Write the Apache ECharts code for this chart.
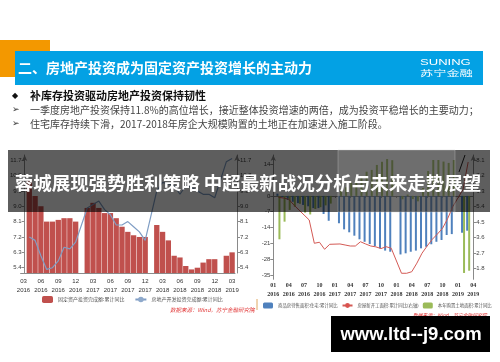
<!DOCTYPE html>
<html>
<head>
<meta charset="utf-8">
<script src="https://cdn.jsdelivr.net/npm/echarts@6/dist/echarts.min.js"></script>
<style>
html,body{margin:0;padding:0;background:#fff;}
#main{width:500px;height:362px;}
</style>
</head>
<body>
<div id="main"></div>
<script>
// ---------- Left chart data ----------
var leftCats = ['2016-03','2016-04','2016-05','2016-06','2016-07','2016-08','2016-09','2016-10','2016-11','2016-12',
  '2017-01','2017-02','2017-03','2017-04','2017-05','2017-06','2017-07','2017-08','2017-09','2017-10','2017-11','2017-12',
  '2018-01','2018-02','2018-03','2018-04','2018-05','2018-06','2018-07','2018-08','2018-09','2018-10','2018-11','2018-12',
  '2019-01','2019-02','2019-03'];
var fixedInvest = [null,10.5,9.6,9.0,8.1,8.1,8.2,8.3,8.3,8.1,
  null,8.9,9.2,8.9,8.6,8.6,8.3,7.8,7.5,7.3,7.2,7.2,
  null,7.9,7.5,7.0,6.1,6.0,5.5,5.3,5.4,5.7,5.9,5.9,
  null,6.1,6.3];
var realEstateInvest = [null,7.2,7.0,6.1,5.3,5.4,5.8,6.6,6.5,6.9,
  null,8.9,9.1,9.3,8.8,8.5,7.9,7.9,8.1,7.8,7.5,7.0,
  null,9.9,10.4,10.3,10.2,9.7,10.2,10.1,9.9,9.7,9.7,9.5,
  null,11.6,11.8];
var leftTicks = [5.4,6.3,7.2,8.1,9.0,9.9,10.8,11.7];

// ---------- Right chart data ----------
var rightCats = ['2016-01','2016-02','2016-03','2016-04','2016-05','2016-06','2016-07','2016-08','2016-09','2016-10','2016-11','2016-12',
  '2017-01','2017-02','2017-03','2017-04','2017-05','2017-06','2017-07','2017-08','2017-09','2017-10','2017-11','2017-12',
  '2018-01','2018-02','2018-03','2018-04','2018-05','2018-06','2018-07','2018-08','2018-09','2018-10','2018-11','2018-12',
  '2019-01','2019-02','2019-03','2019-04'];
var housingInventory = [null,1.0,-0.5,-1.8,-2.6,-3.2,-4.0,-4.6,-5.4,-5.4,-8.0,-11.0,
  null,-12.1,-14.8,-16.1,-17.6,-19.2,-20.3,-21.3,-22.2,-23.2,-24.2,-24.7,
  null,-25.9,-25.4,-24.7,-24.2,-23.2,-22.5,-21.4,-20.3,-19.5,-17.3,-16.9,
  null,-16.3,-15.4,null];
var newStarts = [null,5.94,5.9,5.83,5.5,5.2,4.91,4.62,3.26,3.32,2.91,3.2,
  null,3.22,3.16,3.1,3.1,3.35,3.22,3.1,3.05,2.95,3.06,2.97,
  null,1.51,1.51,1.6,2.1,2.68,3.1,3.49,3.8,4.13,4.7,5.4,
  null,6.4,8.0,null];
var landPurchase = [null,-19.2,-11.4,-6.2,-4.8,-3.5,-7.4,-8.2,-5.8,-5.0,-4.2,-3.4,
  null,2.5,3.8,5.8,7.4,8.5,10.7,11.5,13.7,15.1,16.3,15.8,
  null,-1.5,0.6,-1.4,-2.4,3.5,11.0,15.9,15.9,15.2,14.6,15.9,
  null,-34.1,-33.1,null];
var rightLeftTicks = [-35,-28,-21,-14,-7,0,7,14];
var rightRightTicks = [1.8,2.7,3.6,4.5,5.4,6.3,7.2,8.1];

var leftLegend = ['固定资产投资完成额:累计同比','房地产开发投资完成额:累计同比'];
var rightLegend = ['商品房待售面积:住宅:累计同比','房屋新开工面积:累计同比(右轴)','本年购置土地面积:累计同比'];

var CJK = '"Noto Sans CJK SC","DejaVu Sans",sans-serif';
var SANS = '"Liberation Sans",Arial,sans-serif';

function yAxisCommon(grid, pos, min, max, ticks, offset, digits) {
  return {
    type: 'value', gridIndex: grid, position: pos, min: min, max: max, offset: offset,
    splitLine: {show: false},
    axisLine: {show: true, lineStyle: {color: '#8a8a8a', width: 1}, symbol: ['none', 'arrow'], symbolSize: [4, 6]},
    axisTick: {show: true, length: 3, customValues: ticks, lineStyle: {color: '#8a8a8a'}},
    axisLabel: {customValues: ticks, fontSize: 6, color: '#444', margin: 3, fontFamily: SANS,
      formatter: function (v) { return digits ? Number(v).toFixed(digits) : String(Math.round(v)); }}
  };
}

var chart = echarts.init(document.getElementById('main'), null, {renderer: 'canvas'});
var option = {
  animation: false,
  backgroundColor: '#ffffff',
  grid: [
    {left: 20.6, top: 155, width: 214.4, height: 118},
    {left: 273.3, top: 155, width: 200, height: 124.3}
  ],
  legend: [
    {data: leftLegend, left: 42, top: 296, itemWidth: 11, itemHeight: 7, itemGap: 10, padding: 0,
      textStyle: {fontSize: 5, color: '#555', fontFamily: CJK}},
    {data: rightLegend, left: 263, top: 302.5, itemWidth: 10, itemHeight: 6, itemGap: 4, padding: 0,
      textStyle: {fontSize: 4.4, color: '#555', fontFamily: CJK}}
  ],
  xAxis: [
    {type: 'category', gridIndex: 0, data: leftCats, boundaryGap: true,
      axisLine: {lineStyle: {color: '#8a8a8a'}}, axisTick: {show: false},
      axisLabel: {fontSize: 6, lineHeight: 9, margin: 4, color: '#333', fontFamily: SANS,
        interval: function (i, v) { return parseInt(v.split('-')[1], 10) % 3 === 0; },
        formatter: function (v) { var p = v.split('-'); return p[1] + '\n' + p[0]; }}},
    {type: 'category', gridIndex: 1, data: rightCats, boundaryGap: false,
      axisLine: {lineStyle: {color: '#8a8a8a'}},
      axisTick: {show: true, length: 2, lineStyle: {color: '#8a8a8a'},
        interval: function (i, v) { return (parseInt(v.split('-')[1], 10) - 1) % 3 === 0; }},
      axisLabel: {fontSize: 6, lineHeight: 9, margin: 2, color: '#333', fontWeight: 'bold',
        fontFamily: '"Liberation Serif","Times New Roman",serif',
        interval: function (i, v) { return (parseInt(v.split('-')[1], 10) - 1) % 3 === 0; },
        formatter: function (v) { var p = v.split('-'); return p[1] + '\n' + p[0]; }}}
  ],
  yAxis: [
    yAxisCommon(0, 'left', 5.09, 12.0, leftTicks, -4, 1),
    yAxisCommon(0, 'right', 5.09, 12.0, leftTicks, 2, 1),
    yAxisCommon(1, 'left', -36.9, 18.1, rightLeftTicks, 0, 0),
    yAxisCommon(1, 'right', 1.158, 8.41, rightRightTicks, 0, 1)
  ],
  series: [
    {name: leftLegend[0], type: 'bar', xAxisIndex: 0, yAxisIndex: 0, data: fixedInvest,
      barCategoryGap: '8%', itemStyle: {color: '#c0504d'}},
    {name: leftLegend[1], type: 'line', xAxisIndex: 0, yAxisIndex: 1, data: realEstateInvest,
      symbol: 'none', connectNulls: true, itemStyle: {color: '#8ea9cb'}, lineStyle: {width: 1.2, color: '#7f9dc4'}},
    {name: rightLegend[0], type: 'bar', xAxisIndex: 1, yAxisIndex: 2, data: housingInventory,
      barWidth: 2, barGap: '0%', itemStyle: {color: '#4f81bd'}},
    {name: rightLegend[1], type: 'line', xAxisIndex: 1, yAxisIndex: 3, data: newStarts,
      symbol: 'none', connectNulls: true, itemStyle: {color: '#d9534f'}, lineStyle: {width: 1, color: '#d45a55'}},
    {name: rightLegend[2], type: 'bar', xAxisIndex: 1, yAxisIndex: 2, data: landPurchase,
      barWidth: 2, barGap: '0%', itemStyle: {color: '#9bbb59'}}
  ],
  graphic: {elements: [
    // header banner
    {type: 'rect', shape: {x: 0, y: 40, width: 50, height: 37}, style: {fill: '#f39800'}, z: 1},
    {type: 'rect', shape: {x: 15, y: 51, width: 468, height: 34}, style: {fill: '#03a1e4'}, z: 2},
    {type: 'text', x: 18, y: 68, z: 3, style: {text: '二、房地产投资成为固定资产投资增长的主动力', fill: '#fff',
      font: 'bold 14px ' + CJK, verticalAlign: 'middle'}},
    {type: 'text', x: 420, y: 63, scaleX: 1.45, z: 3, style: {text: 'SUNING', fill: '#fff',
      font: '9px ' + SANS, verticalAlign: 'middle'}},
    {type: 'text', x: 420, y: 73, scaleX: 1.65, z: 3, style: {text: '苏宁金融', fill: '#fff',
      font: '8px ' + CJK, verticalAlign: 'middle'}},
    // bullets
    {type: 'text', x: 12, y: 96, z: 3, style: {text: '◆', fill: '#111', font: '8px "DejaVu Sans"', verticalAlign: 'middle'}},
    {type: 'text', x: 30, y: 96, z: 3, style: {text: '补库存投资驱动房地产投资保持韧性', fill: '#111',
      font: 'bold 11px ' + CJK, verticalAlign: 'middle'}},
    {type: 'text', x: 12, y: 110, z: 3, style: {text: '➢', fill: '#333', font: '9px "DejaVu Sans"', verticalAlign: 'middle'}},
    {type: 'text', x: 30, y: 110, z: 3, style: {text: '一季度房地产投资保持11.8%的高位增长，接近整体投资增速的两倍，成为投资平稳增长的主要动力；',
      fill: '#444', font: '10px ' + CJK, verticalAlign: 'middle'}},
    {type: 'text', x: 12, y: 124, z: 3, style: {text: '➢', fill: '#333', font: '9px "DejaVu Sans"', verticalAlign: 'middle'}},
    {type: 'text', x: 30, y: 124, z: 3, style: {text: '住宅库存持续下滑，2017-2018年房企大规模购置的土地正在加速进入施工阶段。',
      fill: '#444', font: '10px ' + CJK, verticalAlign: 'middle'}},
    // annotation arrow in right chart
    {type: 'line', shape: {x1: 459, y1: 172, x2: 465, y2: 155}, style: {stroke: '#222', lineWidth: 1}, z: 50},
    // separator mark
    {type: 'line', shape: {x1: 257, y1: 299, x2: 257, y2: 310}, style: {stroke: '#e0a860', lineWidth: 1}, z: 3},
    // sources
    {type: 'text', x: 170, y: 310, z: 3, style: {text: '数据来源：Wind，苏宁金融研究院', fill: '#e03030',
      font: 'italic 5.5px ' + CJK, verticalAlign: 'middle'}},
    {type: 'text', x: 413, y: 315, z: 3, style: {text: '数据来源：Wind，苏宁金融研究院', fill: '#e03030',
      font: 'italic 4.8px ' + CJK, verticalAlign: 'middle'}},
    // overlay band
    {type: 'rect', shape: {x: 8, y: 150, width: 482, height: 62}, style: {fill: 'rgba(0,0,0,0.63)'}, z: 100},
    {type: 'rect', shape: {x: 338, y: 150, width: 117, height: 62}, style: {fill: 'rgba(255,255,255,0.1)', stroke: 'rgba(200,200,200,0.35)', lineWidth: 1}, z: 101},
    {type: 'text', x: 248, y: 183, z: 102, style: {text: '蓉城展现强势胜利策略 中超最新战况分析与未来走势展望', fill: '#fff',
      font: 'bold 18.5px ' + CJK, align: 'center', verticalAlign: 'middle'}},
    // watermark box
    {type: 'rect', shape: {x: 331, y: 316, width: 159, height: 36}, style: {fill: '#000'}, z: 100},
    {type: 'text', x: 411, y: 335, z: 102, style: {text: 'www.ltd--j9.com', fill: '#fff',
      font: 'bold 18.5px ' + SANS, align: 'center', verticalAlign: 'middle'}}
  ]}
};
chart.setOption(option);
</script>
</body>
</html>
